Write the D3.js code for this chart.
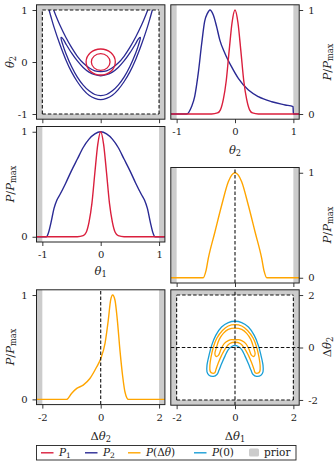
<!DOCTYPE html>
<html>
<head>
<meta charset="utf-8">
<script src="https://cdn.jsdelivr.net/npm/d3@7"></script>
<style>
  body { margin: 0; background: #fff; }
  svg { display: block; font-family: "DejaVu Serif", serif; }
</style>
</head>
<body>
<svg id="chart" width="336" height="471"></svg>
<script>
// ---- data ----
const thetaTicks = [-1, 0, 1];
const deltaTicks = [-2, 0, 2];
const probTicks = [0, 1];

// P1 marginal (same shape on theta1 and theta2)
const p1Theta = [-1.1, -0.4, -0.3, -0.25, -0.2, -0.15, -0.1, -0.05, 0, 0.05, 0.1, 0.15, 0.2, 0.25, 0.3, 0.4, 1.1];
const p1Value = [0, 0, 0.01, 0.04, 0.14, 0.32, 0.61, 0.88, 1, 0.88, 0.61, 0.32, 0.14, 0.04, 0.01, 0, 0];

// P2 marginal over theta1
const p2Theta1 = [-1.1, -0.93, -0.9, -0.85, -0.8, -0.75, -0.7, -0.6, -0.5, -0.4, -0.3, -0.2, -0.1, 0, 0.1, 0.2, 0.3, 0.4, 0.5, 0.6, 0.7, 0.75, 0.8, 0.85, 0.9, 0.93, 1.1];
const p2Value1 = [0, 0, 0.03, 0.14, 0.27, 0.35, 0.40, 0.51, 0.63, 0.74, 0.85, 0.93, 0.98, 1, 0.98, 0.93, 0.85, 0.74, 0.63, 0.51, 0.40, 0.35, 0.27, 0.14, 0.03, 0, 0];

// P2 marginal over theta2
const p2Theta2 = [-1.1, -0.83, -0.745, -0.69, -0.63, -0.57, -0.52, -0.47, -0.43, -0.37, -0.315, -0.26, -0.17, -0.06, 0.06, 0.23, 0.4, 0.63, 0.86, 0.995, 1.0, 1.1];
const p2Value2 = [0, 0, 0.07, 0.17, 0.39, 0.68, 0.89, 0.97, 1, 0.95, 0.84, 0.71, 0.58, 0.455, 0.34, 0.23, 0.167, 0.118, 0.087, 0.07, 0, 0];

// P(delta theta) marginals
const dTheta1 = [-2.2, -1.09, -1.0, -0.915, -0.686, -0.457, -0.229, -0.114, 0, 0.114, 0.229, 0.457, 0.686, 0.915, 1.0, 1.09, 2.2];
const pDelta1 = [0, 0, 0.06, 0.185, 0.438, 0.69, 0.914, 0.978, 1, 0.978, 0.914, 0.69, 0.438, 0.185, 0.06, 0, 0];
const dTheta2 = [-2.2, -1.17, -1.0, -0.82, -0.6, -0.37, -0.14, 0, 0.15, 0.26, 0.34, 0.41, 0.49, 0.57, 0.66, 0.755, 0.83, 0.95, 2.2];
const pDelta2 = [0, 0, 0.057, 0.105, 0.137, 0.2, 0.31, 0.39, 0.54, 0.76, 0.95, 1, 0.95, 0.76, 0.47, 0.217, 0.073, 0, 0];

// P1 contour radii (centred at 0,0)
const p1Radii = [0.16, 0.25];

// P2 contours [theta1, theta2]
const p2OuterLow = [[-0.885, 1.0], [-0.85, 0.86], [-0.8, 0.67], [-0.7, 0.34], [-0.6, 0.05], [-0.5, -0.19], [-0.4, -0.38], [-0.3, -0.53], [-0.2, -0.64], [-0.1, -0.70], [0, -0.725],
  [0.1, -0.70], [0.2, -0.64], [0.3, -0.53], [0.4, -0.38], [0.5, -0.19], [0.6, 0.05], [0.7, 0.34], [0.8, 0.67], [0.85, 0.86], [0.885, 1.0]];
const p2OuterHigh = [[-0.806, 1.0], [-0.75, 0.84], [-0.7, 0.71], [-0.6, 0.48], [-0.5, 0.28], [-0.4, 0.11], [-0.3, -0.02], [-0.2, -0.11], [-0.1, -0.17], [0, -0.185],
  [0.1, -0.17], [0.2, -0.11], [0.3, -0.02], [0.4, 0.11], [0.5, 0.28], [0.6, 0.48], [0.7, 0.71], [0.75, 0.84], [0.806, 1.0]];
const p2Inner = [[-0.68, 0.47], [-0.65, 0.45], [-0.6, 0.355], [-0.5, 0.175], [-0.4, 0.02], [-0.3, -0.105], [-0.2, -0.195], [-0.1, -0.245], [0, -0.265],
  [0.1, -0.245], [0.2, -0.195], [0.3, -0.105], [0.4, 0.02], [0.5, 0.175], [0.6, 0.355], [0.65, 0.45], [0.68, 0.47],
  [0.65, 0.335], [0.6, 0.175], [0.5, -0.085], [0.4, -0.29], [0.3, -0.445], [0.2, -0.555], [0.1, -0.625], [0, -0.645],
  [-0.1, -0.625], [-0.2, -0.555], [-0.3, -0.445], [-0.4, -0.29], [-0.5, -0.085], [-0.6, 0.175], [-0.65, 0.335]];

// P(0) and P(delta theta) contours [dtheta1, dtheta2]
const zeroLoop = [[0, 1.0], [-0.23, 0.95], [-0.46, 0.78], [-0.66, 0.46], [-0.8, 0.08], [-0.89, -0.3], [-0.96, -0.68], [-0.96, -0.93], [-0.89, -1.06], [-0.74, -1.1], [-0.62, -1.03],
  [-0.55, -0.87], [-0.46, -0.62], [-0.34, -0.32], [-0.23, -0.08], [-0.11, 0.04], [0, 0.08], [0.11, 0.04], [0.23, -0.08], [0.34, -0.32], [0.46, -0.62], [0.55, -0.87],
  [0.62, -1.03], [0.74, -1.1], [0.89, -1.06], [0.96, -0.93], [0.96, -0.68], [0.89, -0.3], [0.8, 0.08], [0.66, 0.46], [0.46, 0.78], [0.23, 0.95]];
const deltaOuter = [[0, 0.87], [-0.23, 0.82], [-0.43, 0.65], [-0.62, 0.36], [-0.74, 0.02], [-0.82, -0.36], [-0.86, -0.68], [-0.85, -0.91], [-0.78, -0.98], [-0.69, -0.96],
  [-0.65, -0.83], [-0.57, -0.58], [-0.46, -0.3], [-0.32, -0.02], [-0.18, 0.15], [0, 0.2], [0.18, 0.15], [0.32, -0.02], [0.46, -0.3], [0.57, -0.58], [0.65, -0.83],
  [0.69, -0.96], [0.78, -0.98], [0.85, -0.91], [0.86, -0.68], [0.82, -0.36], [0.74, 0.02], [0.62, 0.36], [0.43, 0.65], [0.23, 0.82]];
const deltaInner = [[0, 0.74], [-0.23, 0.69], [-0.4, 0.54], [-0.54, 0.31], [-0.63, 0.02], [-0.69, -0.24], [-0.65, -0.34], [-0.57, -0.3], [-0.48, -0.07], [-0.37, 0.15],
  [-0.23, 0.26], [-0.11, 0.3], [0, 0.29], [0.11, 0.3], [0.23, 0.26], [0.37, 0.15], [0.48, -0.07], [0.57, -0.3], [0.65, -0.34], [0.69, -0.24], [0.63, 0.02],
  [0.54, 0.31], [0.4, 0.54], [0.23, 0.69]];

const legendNames = ['P1', 'P2', 'PDelta', 'P0', 'prior'];

const colors = { p1: '#da1f3d', p2: '#2a2a94', delta: '#ffa500', zero: '#1a9fd6', prior: '#cccccc', ink: '#222' };

const svg = d3.select('#chart');
const defs = svg.append('defs');

function makePanel(cfg) {
  let p = {};
  p.x = d3.scaleLinear().domain(cfg.xDomain).range(cfg.xRange);
  p.y = d3.scaleLinear().domain(cfg.yDomain).range(cfg.yRange);
  p.left = cfg.xRange[0]; p.right = cfg.xRange[1];
  p.top = cfg.yRange[1]; p.bottom = cfg.yRange[0];
  p.g = svg.append('g');

  defs.append('clipPath').attr('id', 'clip' + cfg.id)
    .append('rect')
    .attr('x', p.left).attr('y', p.top)
    .attr('width', p.right - p.left).attr('height', p.bottom - p.top);

  p.g.append('rect')
    .attr('x', p.left).attr('y', p.top)
    .attr('width', p.right - p.left).attr('height', p.bottom - p.top)
    .attr('fill', colors.prior);

  let px = cfg.priorX, py = cfg.priorY || cfg.yDomain;
  p.g.append('rect')
    .attr('x', p.x(px[0])).attr('y', p.y(py[1]))
    .attr('width', p.x(px[1]) - p.x(px[0]))
    .attr('height', p.y(py[0]) - p.y(py[1]))
    .attr('fill', '#fff');

  p.plot = p.g.append('g').attr('clip-path', `url(#clip${cfg.id})`);
  return p;
}

function addAxis(p, side, ticks, labels) {
  let axis, tr;
  if (side === 'left') { axis = d3.axisLeft(p.y); tr = `translate(${p.left},0)`; }
  if (side === 'right') { axis = d3.axisRight(p.y); tr = `translate(${p.right},0)`; }
  if (side === 'bottom') { axis = d3.axisBottom(p.x); tr = `translate(0,${p.bottom})`; }
  axis.tickValues(ticks).tickSize(4).tickPadding(5).tickSizeOuter(0)
    .tickFormat(labels ? d => String(d) : '');
  let g = p.g.append('g').attr('transform', tr).call(axis);
  g.select('.domain').remove();
  g.attr('font-family', null).attr('font-size', 10).style('color', colors.ink);
  g.selectAll('line').attr('stroke-width', 0.9);
}

function frame(p) {
  p.g.append('rect')
    .attr('x', p.left).attr('y', p.top)
    .attr('width', p.right - p.left).attr('height', p.bottom - p.top)
    .attr('fill', 'none').attr('stroke', colors.ink).attr('stroke-width', 1);
}

function dashed(p, x1, y1, x2, y2) {
  p.plot.append('line')
    .attr('x1', p.x(x1)).attr('y1', p.y(y1)).attr('x2', p.x(x2)).attr('y2', p.y(y2))
    .attr('stroke', '#111').attr('stroke-width', 1.1).attr('stroke-dasharray', '3.5,2');
}

function curve(p, xs, ys, color) {
  let line = d3.line().x((d, i) => p.x(xs[i])).y(d => p.y(d)).curve(d3.curveMonotoneX);
  p.plot.append('path').attr('d', line(ys))
    .attr('fill', 'none').attr('stroke', color).attr('stroke-width', 1.4);
}

function loop(p, pts, color, closed) {
  let line = d3.line().x(d => p.x(d[0])).y(d => p.y(d[1]))
    .curve(closed ? d3.curveCatmullRomClosed.alpha(0.5) : d3.curveCatmullRom.alpha(0.5));
  p.plot.append('path').attr('d', line(pts))
    .attr('fill', 'none').attr('stroke', color).attr('stroke-width', 1.3);
}

// label parts: t = text, i = italic, sub = subscript
function mathText(sel, parts) {
  parts.forEach(part => {
    let ts = sel.append('tspan').text(part.t);
    if (part.i) ts.attr('font-style', 'italic');
    if (part.sub) ts.attr('font-size', '0.72em').attr('dy', '0.28em');
  });
  return sel;
}

function axisLabel(x, y, parts, rotate) {
  let t = svg.append('text')
    .attr('text-anchor', 'middle').attr('font-size', 11.5).attr('fill', colors.ink)
    .attr('transform', rotate ? `translate(${x},${y}) rotate(-90)` : `translate(${x},${y})`);
  mathText(t, parts);
}

const pOverPmax = [{ t: 'P', i: true }, { t: '/' }, { t: 'P', i: true }, { t: 'max', sub: true }];

const col1 = [36.5, 164.9], col2 = [170.8, 299.2];

// ---- panel 1: theta1 / theta2 contours ----
let a = makePanel({ id: 1, xRange: col1, yRange: [119.2, 4.8], xDomain: [-1.1, 1.1], yDomain: [-1.1, 1.1], priorX: [-1, 1], priorY: [-1, 1] });
loop(a, p2OuterLow, colors.p2, false);
loop(a, p2OuterHigh, colors.p2, false);
loop(a, p2Inner, colors.p2, true);
a.plot.selectAll('.p1ring').data(p1Radii).enter()
  .append('ellipse')
  .attr('class', 'p1ring')
  .attr('cx', a.x(0)).attr('cy', a.y(0))
  .attr('rx', d => a.x(d) - a.x(0)).attr('ry', d => a.y(0) - a.y(d))
  .attr('fill', 'none').attr('stroke', colors.p1).attr('stroke-width', 1.3);
dashed(a, -1, 1, 1, 1); dashed(a, -1, -1, 1, -1); dashed(a, -1, -1, -1, 1); dashed(a, 1, -1, 1, 1);
frame(a);
addAxis(a, 'left', thetaTicks, true);
addAxis(a, 'bottom', thetaTicks, false);
axisLabel(14, 62, [{ t: 'θ', i: true }, { t: '2', sub: true }], true);

// ---- panel 2: marginal over theta2 ----
let b = makePanel({ id: 2, xRange: col2, yRange: [119.2, 4.8], xDomain: [-1.1, 1.1], yDomain: [-0.05, 1.05], priorX: [-1, 1] });
curve(b, p2Theta2, p2Value2, colors.p2);
curve(b, p1Theta, p1Value, colors.p1);
frame(b);
addAxis(b, 'bottom', thetaTicks, true);
addAxis(b, 'right', probTicks, true);
axisLabel(331, 62, pOverPmax, true);
axisLabel(235, 154, [{ t: 'θ', i: true }, { t: '2', sub: true }], false);

// ---- panel 3: marginal over theta1 ----
let c = makePanel({ id: 3, xRange: col1, yRange: [242, 126.5], xDomain: [-1.1, 1.1], yDomain: [-0.05, 1.05], priorX: [-1, 1] });
curve(c, p2Theta1, p2Value1, colors.p2);
curve(c, p1Theta, p1Value, colors.p1);
frame(c);
addAxis(c, 'left', probTicks, true);
addAxis(c, 'bottom', thetaTicks, true);
axisLabel(14, 184, pOverPmax, true);
axisLabel(100.7, 275, [{ t: 'θ', i: true }, { t: '1', sub: true }], false);

// ---- panel 4: P(delta theta1) ----
let d = makePanel({ id: 4, xRange: col2, yRange: [283, 167.5], xDomain: [-2.2, 2.2], yDomain: [-0.05, 1.05], priorX: [-2, 2] });
curve(d, dTheta1, pDelta1, colors.delta);
dashed(d, 0, -0.05, 0, 1.05);
frame(d);
addAxis(d, 'right', probTicks, true);
addAxis(d, 'bottom', deltaTicks, false);
axisLabel(331, 225, pOverPmax, true);

// ---- panel 5: P(delta theta2) ----
let e = makePanel({ id: 5, xRange: col1, yRange: [404.6, 289.8], xDomain: [-2.2, 2.2], yDomain: [-0.05, 1.05], priorX: [-2, 2] });
curve(e, dTheta2, pDelta2, colors.delta);
dashed(e, 0, -0.05, 0, 1.05);
frame(e);
addAxis(e, 'left', probTicks, true);
addAxis(e, 'bottom', deltaTicks, true);
axisLabel(14, 347, pOverPmax, true);
axisLabel(100.7, 440, [{ t: 'Δ' }, { t: 'θ', i: true }, { t: '2', sub: true }], false);

// ---- panel 6: delta theta contours ----
let f = makePanel({ id: 6, xRange: col2, yRange: [405.2, 289.8], xDomain: [-2.2, 2.2], yDomain: [-2.2, 2.2], priorX: [-2, 2], priorY: [-2, 2] });
loop(f, zeroLoop, colors.zero, true);
loop(f, deltaOuter, colors.delta, true);
loop(f, deltaInner, colors.delta, true);
dashed(f, -2, 2, 2, 2); dashed(f, -2, -2, 2, -2); dashed(f, -2, -2, -2, 2); dashed(f, 2, -2, 2, 2);
dashed(f, 0, -2.2, 0, 2.2); dashed(f, -2.2, 0, 2.2, 0);
frame(f);
addAxis(f, 'right', deltaTicks, true);
addAxis(f, 'bottom', deltaTicks, true);
axisLabel(331, 347, [{ t: 'Δ' }, { t: 'θ', i: true }, { t: '2', sub: true }], true);
axisLabel(235, 440, [{ t: 'Δ' }, { t: 'θ', i: true }, { t: '1', sub: true }], false);

// ---- legend ----
const legendLabels = {
  P1: [{ t: 'P', i: true }, { t: '1', sub: true }],
  P2: [{ t: 'P', i: true }, { t: '2', sub: true }],
  PDelta: [{ t: 'P', i: true }, { t: '(Δ' }, { t: 'θ', i: true }, { t: ')' }],
  P0: [{ t: 'P', i: true }, { t: '(0)' }],
  prior: [{ t: 'prior' }]
};
const legendColors = { P1: colors.p1, P2: colors.p2, PDelta: colors.delta, P0: colors.zero };
const legendX = [41, 85, 128, 194, 249];

let leg = svg.append('g');
leg.append('rect').attr('x', 36.5).attr('y', 445.5).attr('width', 259.5).attr('height', 14.5)
  .attr('fill', '#fff').attr('stroke', colors.ink).attr('stroke-width', 0.9);
legendNames.forEach((name, i) => {
  let x0 = legendX[i];
  if (name === 'prior') {
    leg.append('rect').attr('x', x0).attr('y', 448.5).attr('width', 10).attr('height', 8)
      .attr('rx', 1.5).attr('fill', colors.prior);
  } else {
    leg.append('line').attr('x1', x0).attr('x2', x0 + 12.5).attr('y1', 452.8).attr('y2', 452.8)
      .attr('stroke', legendColors[name]).attr('stroke-width', 1.4);
  }
  let t = leg.append('text').attr('x', x0 + (name === 'prior' ? 15 : 18)).attr('y', 456.3)
    .attr('font-size', 10.5).attr('fill', colors.ink);
  mathText(t, legendLabels[name]);
});
</script>
</body>
</html>
